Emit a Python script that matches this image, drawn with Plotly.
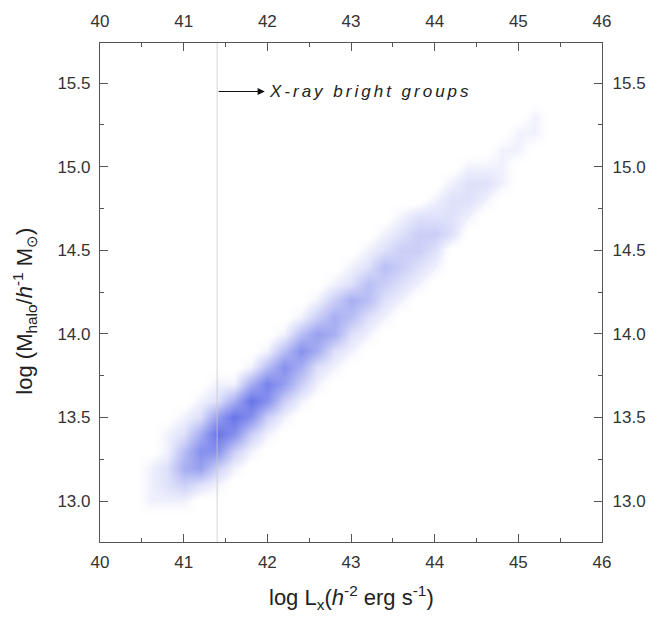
import numpy as np
import plotly.graph_objects as go

# ---- data ----
# density of the point cloud on a grid (0 = empty ... 9 = densest)
lx_centers = [40.4 + 0.2 * i for i in range(28)]          # log Lx cell centres
lm_centers = [12.9 + 0.1 * j for j in range(28)]          # log Mhalo cell centres
# each row: (log Mhalo, first column index, density digits)
density_rows = [
    (15.3, 24, "1"),
    (15.2, 23, "11"),
    (15.1, 22, "11"),
    (15.0, 20, "111"),
    (14.9, 19, "1221"),
    (14.8, 18, "1221"),
    (14.7, 16, "12221"),
    (14.6, 15, "12332"),
    (14.5, 14, "12332"),
    (14.4, 13, "124321"),
    (14.3, 12, "124321"),
    (14.2, 11, "135421"),
    (14.1, 10, "135421"),
    (14.0, 9, "146521"),
    (13.9, 8, "147521"),
    (13.8, 7, "147521"),
    (13.7, 5, "1158631"),
    (13.6, 4, "1259731"),
    (13.5, 3, "1269731"),
    (13.4, 2, "1259731"),
    (13.3, 2, "147731"),
    (13.2, 1, "125631"),
    (13.1, 1, "12321"),
    (13.0, 1, "111"),
]
xray_limit = 41.4
arrow_end = 41.97
label_y = 15.45
label_text = "X-ray bright groups"
x_ticks = [40, 41, 42, 43, 44, 45, 46]
y_ticks = [13.0, 13.5, 14.0, 14.5, 15.0, 15.5]

# ---- build grid ----
z = np.zeros((len(lm_centers), len(lx_centers)))
for ym, start, digits in density_rows:
    j = int(round((ym - lm_centers[0]) / 0.1))
    for k, ch in enumerate(digits):
        z[j, start + k] = int(ch)

font_main = "Liberation Sans, Arial, sans-serif"
axcol = "#555555"
tickfont = dict(family=font_main, size=17, color="#333333")

fig = go.Figure()
fig.add_trace(go.Heatmap(
    x=lx_centers, y=lm_centers, z=z, zmin=0, zmax=9, zsmooth="best",
    colorscale=[[0, "rgba(255,255,255,0)"], [1 / 9, "rgb(240,241,253)"],
                [2 / 9, "rgb(222,225,250)"], [3 / 9, "rgb(203,207,247)"],
                [5 / 9, "rgb(168,175,242)"], [7 / 9, "rgb(135,145,238)"],
                [1, "rgb(105,116,233)"]],
    showscale=False, hoverinfo="skip"))
# empty trace to anchor the top/right axes
fig.add_trace(go.Scatter(x=[], y=[], xaxis="x2", yaxis="y2", showlegend=False))

common = dict(showgrid=False, zeroline=False, showline=True, linecolor=axcol,
              linewidth=1.2, ticks="inside", ticklen=8, tickcolor=axcol,
              tickfont=tickfont)
xr = [40, 46]
yr = [12.755, 15.74]
fig.update_layout(
    width=662, height=618,
    margin=dict(l=100, r=60, t=41, b=76),
    paper_bgcolor="white", plot_bgcolor="white",
    showlegend=False,
    xaxis=dict(range=xr, tickvals=x_ticks, ticktext=[str(v) for v in x_ticks],
               minor=dict(ticks="inside", ticklen=4, dtick=0.5, tickcolor=axcol),
               ticklabelstandoff=4, **common),
    yaxis=dict(range=yr, tickvals=y_ticks, ticktext=[f"{v:.1f}" for v in y_ticks],
               minor=dict(ticks="inside", ticklen=4, dtick=0.25, tickcolor=axcol),
               ticklabelstandoff=5, **common),
    xaxis2=dict(range=xr, overlaying="x", side="top", anchor="y",
                tickvals=x_ticks, ticktext=[str(v) for v in x_ticks],
                minor=dict(ticks="inside", ticklen=4, dtick=0.5, tickcolor=axcol),
                ticklabelstandoff=8, **common),
    yaxis2=dict(range=yr, overlaying="y", side="right", anchor="x",
                tickvals=y_ticks, ticktext=[f"{v:.1f}" for v in y_ticks],
                minor=dict(ticks="inside", ticklen=4, dtick=0.25, tickcolor=axcol),
                ticklabelstandoff=6, **common),
)

fig.add_shape(type="line", xref="x", yref="paper", x0=xray_limit, x1=xray_limit,
              y0=0, y1=1, line=dict(color="rgba(200,200,200,0.8)", width=1), layer="above")
fig.add_annotation(x=arrow_end, y=label_y, ax=xray_limit, ay=label_y,
                   xref="x", yref="y", axref="x", ayref="y", text="",
                   showarrow=True, arrowhead=2, arrowsize=1.2, arrowwidth=1.2,
                   arrowcolor="#111111")
fig.add_annotation(x=arrow_end + 0.02, y=label_y, xref="x", yref="y",
                   text=f'<span style="letter-spacing:3px">{label_text}</span>',
                   showarrow=False, xanchor="left", yanchor="middle",
                   font=dict(family=font_main, size=17, color="#222222", style="italic"))
# axis titles
fig.add_annotation(x=0.5, y=-0.112, xref="paper", yref="paper", showarrow=False,
                   xanchor="center", yanchor="middle",
                   text="log L<sub>x</sub>(<i>h</i><sup>-2</sup> erg s<sup>-1</sup>)",
                   font=dict(family=font_main, size=22, color="#222222"))
fig.add_annotation(x=-0.15, y=0.463, xref="paper", yref="paper", showarrow=False,
                   xanchor="center", yanchor="middle", textangle=-90,
                   text="log (M<sub>halo</sub>/<i>h</i><sup>-1</sup> M<sub>⊙</sub>)",
                   font=dict(family=font_main, size=22, color="#222222"))

fig.write_html("out.html")
